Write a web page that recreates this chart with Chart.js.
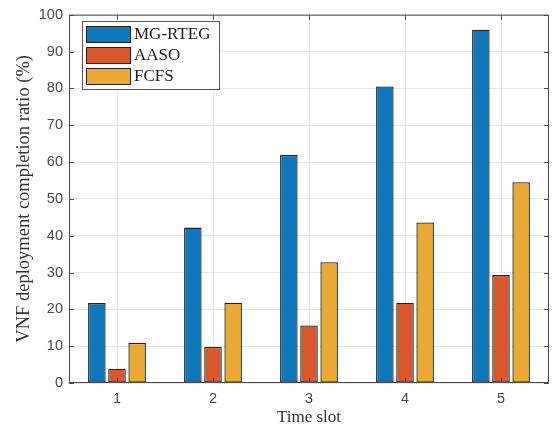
<!DOCTYPE html>
<html>
<head>
<meta charset="utf-8">
<script src="https://cdn.jsdelivr.net/npm/chart.js@4"></script>
<style>
  html, body { margin: 0; padding: 0; background: #fff; }
  #wrap { width: 554px; height: 433px; }
</style>
</head>
<body>
<div id="wrap"><canvas id="barChart" width="554" height="433"></canvas></div>
<script>
const timeSlots = ['1', '2', '3', '4', '5'];
const seriesNames = ['MG-RTEG', 'AASO', 'FCFS'];
const mgrteg = [21.7, 42.2, 61.9, 80.5, 95.9];
const aaso = [3.9, 9.8, 15.6, 21.8, 29.3];
const fcfs = [10.9, 21.8, 32.8, 43.6, 54.5];
const barColors = ['#1177BB', '#D8572D', '#EAAA37'];

const serif = '"Liberation Serif", "Times New Roman", serif';
const sans = '"Liberation Sans", Arial, sans-serif';
const axisColor = '#4a4a4a';

// matlab-ish box with inward ticks
const boxPlugin = {
  id: 'box',
  afterDatasetsDraw(chart) {
    const c = chart.ctx, a = chart.chartArea;
    const xs = chart.scales.x, ys = chart.scales.y;
    c.save();
    c.strokeStyle = axisColor;
    c.lineWidth = 1;
    c.beginPath();
    c.rect(a.left + 0.5, a.top + 0.5, a.right - a.left - 1, a.bottom - a.top - 1);
    ys.ticks.forEach((t, i) => {
      const y = Math.round(ys.getPixelForTick(i)) + 0.5;
      c.moveTo(a.left, y); c.lineTo(a.left + 5, y);
      c.moveTo(a.right, y); c.lineTo(a.right - 5, y);
    });
    xs.ticks.forEach((t, i) => {
      const x = Math.round(xs.getPixelForTick(i)) + 0.5;
      c.moveTo(x, a.bottom); c.lineTo(x, a.bottom - 5);
      c.moveTo(x, a.top); c.lineTo(x, a.top + 5);
    });
    c.stroke();
    c.restore();
  },
  afterDraw(chart) {
    const c = chart.ctx;
    const bx = 82, by = 21, bw = 137, bh = 68;
    c.save();
    c.fillStyle = '#fff';
    c.fillRect(bx, by, bw, bh);
    c.strokeStyle = '#555';
    c.lineWidth = 1;
    c.strokeRect(bx + 0.5, by + 0.5, bw, bh);
    c.font = '17px ' + serif;
    c.textBaseline = 'middle';
    chart.data.datasets.forEach((ds, i) => {
      const y = 26 + i * 21;
      c.fillStyle = ds.backgroundColor;
      c.fillRect(86, y, 44, 16);
      c.strokeStyle = '#222';
      c.strokeRect(86.5, y + 0.5, 44, 16);
      c.fillStyle = '#1a1a1a';
      c.fillText(ds.label, 134, y + 8.5);
    });
    c.restore();
  }
};

new Chart(document.getElementById('barChart'), {
  type: 'bar',
  data: {
    labels: timeSlots,
    datasets: [mgrteg, aaso, fcfs].map((d, i) => ({
      label: seriesNames[i],
      data: d,
      backgroundColor: barColors[i],
      borderColor: '#222',
      borderWidth: 1.3,
      borderSkipped: false,
      categoryPercentage: 0.63,
      barPercentage: 0.87
    }))
  },
  options: {
    responsive: false,
    animation: false,
    layout: { padding: { top: 9, right: 5, left: 0, bottom: 0 } },
    plugins: { legend: { display: false }, tooltip: { enabled: false } },
    scales: {
      x: {
        grid: { color: '#e6e6e6', offset: false, drawTicks: false },
        border: { display: false },
        ticks: { color: axisColor, font: { family: sans, size: 14.5 }, padding: 7 },
        title: { display: true, text: 'Time slot', color: '#333', font: { family: serif, size: 17 }, padding: { top: 0, bottom: 5 } },
        afterFit(s) { s.height = 50; }
      },
      y: {
        min: 0, max: 100,
        grid: { color: '#e6e6e6', drawTicks: false },
        border: { display: false },
        ticks: { stepSize: 10, color: axisColor, font: { family: sans, size: 14.5 }, padding: 6 },
        title: { display: true, text: 'VNF deployment completion ratio (%)', color: '#333', font: { family: serif, size: 18.5 }, padding: { top: 13, bottom: 0 } },
        afterFit(s) { s.width = 69; }
      }
    }
  },
  plugins: [boxPlugin]
});
</script>
</body>
</html>
